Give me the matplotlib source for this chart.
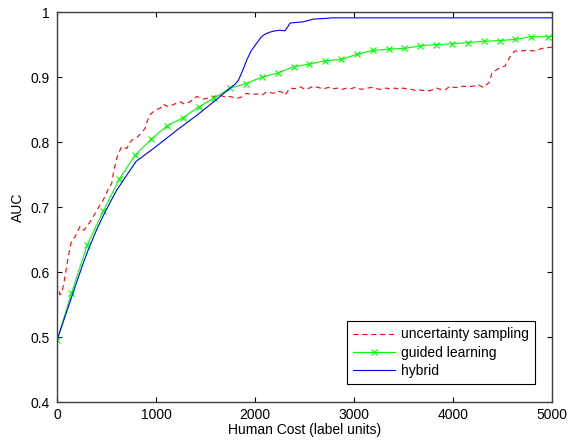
import numpy as np
import matplotlib
matplotlib.use('Agg')
import matplotlib.pyplot as plt

plt.rcParams['font.family'] = ['Liberation Sans', 'DejaVu Sans']
plt.rcParams['font.size'] = 10

# uncertainty sampling (red, dashed)
unc_x = [0, 5, 30, 55, 81, 114, 148, 182, 200, 232, 270, 300, 333, 384, 434, 468, 519, 552, 569, 603,
         630, 653, 704, 754, 790, 821, 860, 889, 906, 939, 990, 1040, 1074, 1125, 1180, 1242, 1290, 1343,
         1411, 1478, 1530, 1579, 1646, 1700, 1747, 1815, 1860, 1916, 1960, 2017, 2070, 2118, 2185, 2230,
         2270, 2303, 2354, 2400, 2455, 2505, 2550, 2589, 2657, 2700, 2740, 2790, 2841, 2880, 2926, 2970,
         3010, 3077, 3130, 3195, 3230, 3263, 3330, 3370, 3414, 3460, 3498, 3540, 3582, 3620, 3667, 3720,
         3768, 3835, 3870, 3919, 3970, 4010, 4054, 4104, 4150, 4205, 4256, 4306, 4374, 4391, 4430, 4458,
         4525, 4549, 4590, 4626, 4677, 4750, 4828, 4896, 4950, 5000]
unc_y = [0.545, 0.578, 0.565, 0.572, 0.593, 0.624, 0.649, 0.654, 0.660, 0.670, 0.664, 0.670, 0.677, 0.690,
         0.703, 0.711, 0.728, 0.736, 0.752, 0.775, 0.785, 0.793, 0.790, 0.803, 0.805, 0.809, 0.815, 0.821,
         0.830, 0.842, 0.849, 0.852, 0.858, 0.854, 0.858, 0.862, 0.858, 0.862, 0.870, 0.866, 0.868, 0.870,
         0.872, 0.869, 0.870, 0.867, 0.869, 0.875, 0.873, 0.874, 0.872, 0.877, 0.875, 0.878, 0.877, 0.872,
         0.883, 0.882, 0.885, 0.881, 0.883, 0.886, 0.883, 0.882, 0.884, 0.882, 0.883, 0.881, 0.883, 0.882,
         0.884, 0.881, 0.883, 0.884, 0.882, 0.881, 0.883, 0.881, 0.883, 0.881, 0.883, 0.881, 0.881, 0.879,
         0.880, 0.879, 0.879, 0.883, 0.881, 0.880, 0.886, 0.884, 0.884, 0.886, 0.885, 0.886, 0.888, 0.884,
         0.893, 0.906, 0.910, 0.913, 0.917, 0.924, 0.935, 0.940, 0.940, 0.941, 0.940, 0.944, 0.945, 0.946]

# guided learning (green, x markers)
gl_x = [0, 145, 306, 468, 629, 790, 950, 1110, 1270, 1430, 1590, 1750, 1910, 2070, 2230, 2390, 2550,
        2710, 2870, 3030, 3190, 3350, 3510, 3670, 3830, 3990, 4150, 4310, 4470, 4630, 4790, 4955, 5000]
gl_y = [0.495, 0.567, 0.642, 0.694, 0.743, 0.780, 0.804, 0.825, 0.837, 0.854, 0.868, 0.883, 0.890,
        0.900, 0.906, 0.916, 0.920, 0.925, 0.927, 0.935, 0.941, 0.943, 0.944, 0.948, 0.950, 0.951,
        0.953, 0.955, 0.956, 0.958, 0.962, 0.962, 0.962]

# hybrid (blue)
hy_x = [0, 100, 200, 266, 310, 400, 468, 540, 603, 700, 798, 1000, 1200, 1428, 1600, 1747, 1800, 1832,
        1870, 1916, 1960, 2017, 2060, 2101, 2150, 2202, 2252, 2303, 2330, 2354, 2420, 2488, 2540, 2589,
        2700, 2775, 5000]
hy_y = [0.495, 0.540, 0.585, 0.614, 0.632, 0.665, 0.687, 0.708, 0.726, 0.748, 0.770, 0.793, 0.817,
        0.843, 0.864, 0.883, 0.889, 0.895, 0.908, 0.926, 0.940, 0.952, 0.961, 0.966, 0.969, 0.971,
        0.972, 0.971, 0.977, 0.983, 0.984, 0.985, 0.987, 0.989, 0.990, 0.991, 0.991]

fig = plt.figure(figsize=(5.69, 4.40), dpi=100)
ax = fig.add_axes([57 / 569, 1 - 402 / 440, 495 / 569, 390 / 440])

ax.plot(unc_x, unc_y, linestyle='--', dashes=(4.5, 3.5), color='#ff0000', linewidth=0.8,
        label='uncertainty sampling')
ax.plot(gl_x, gl_y, linestyle='-', marker='x', markevery=list(range(len(gl_x) - 1)), color='#00ff00',
        linewidth=0.8, markersize=4.5, markeredgewidth=0.8, label='guided learning')
ax.plot(hy_x, hy_y, linestyle='-', color='#0000ff', linewidth=0.8, label='hybrid')

ax.set_xlim(0, 5000)
ax.set_ylim(0.4, 1.0)
ax.set_xticks([0, 1000, 2000, 3000, 4000, 5000])
ax.set_yticks([0.4, 0.5, 0.6, 0.7, 0.8, 0.9, 1.0])
ax.set_yticklabels(['0.4', '0.5', '0.6', '0.7', '0.8', '0.9', '1'])
ax.tick_params(direction='in', top=True, right=True, length=3.5, width=0.8, colors='#000000',
               labelsize=10)
ax.tick_params(axis='x', pad=4)
ax.tick_params(axis='y', pad=5)
for s in ax.spines.values():
    s.set_color('#404040')
    s.set_linewidth(1.0)

ax.set_xlabel('Human Cost (label units)', fontsize=10, labelpad=1)
ax.set_ylabel('AUC', fontsize=10, labelpad=4)

leg = ax.legend(loc='lower right', bbox_to_anchor=((535 - 57) / 495, (402 - 384) / 390),
                borderaxespad=0, fancybox=False, framealpha=1, edgecolor='#000000',
                handlelength=3.0, handletextpad=0.45, labelspacing=0.3, borderpad=0.45, numpoints=1,
                fontsize=10)
leg.get_frame().set_linewidth(0.8)

fig.savefig('out.png', dpi=100)
